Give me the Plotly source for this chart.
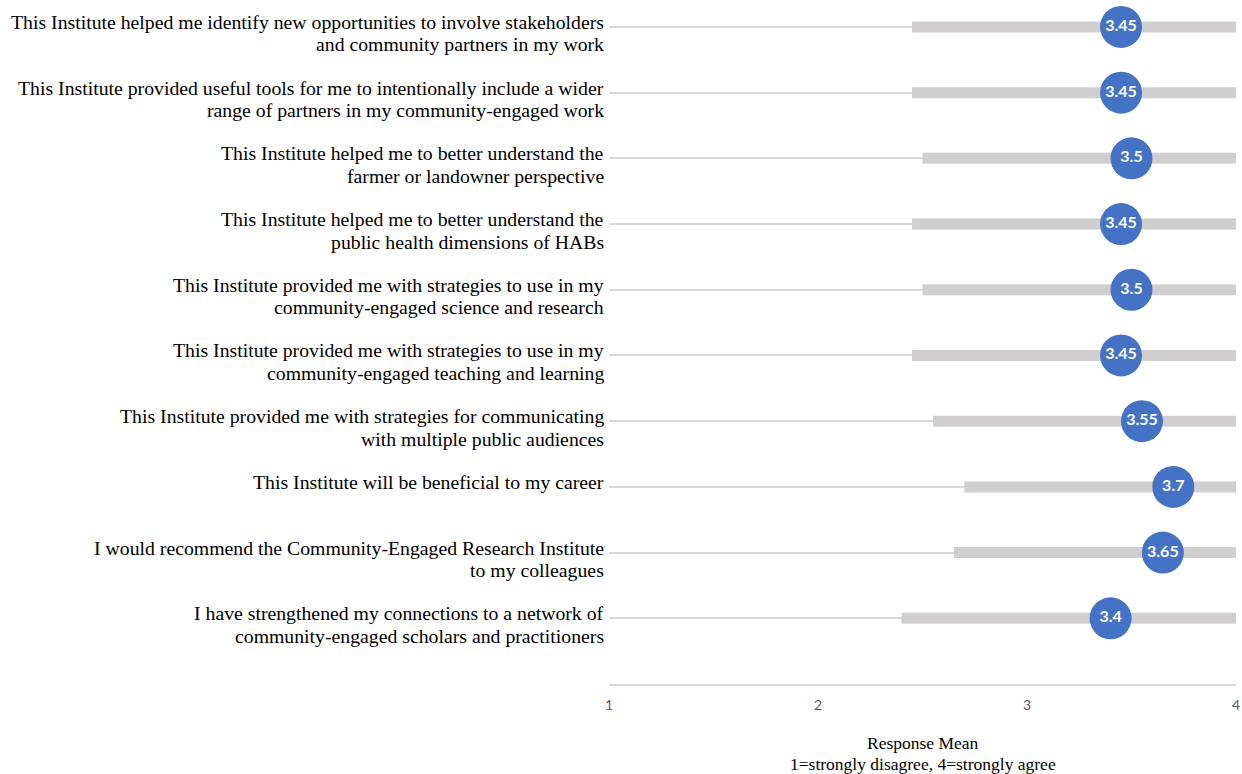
import plotly.graph_objects as go

# Survey statements (top to bottom), with <br> where each label wraps
statements = [
    "This Institute helped me identify new opportunities to involve stakeholders<br>and community partners in my work",
    "This Institute provided useful tools for me to intentionally include a wider<br>range of partners in my community-engaged work",
    "This Institute helped me to better understand the<br>farmer or landowner perspective",
    "This Institute helped me to better understand the<br>public health dimensions of HABs",
    "This Institute provided me with strategies to use in my<br>community-engaged science and research",
    "This Institute provided me with strategies to use in my<br>community-engaged teaching and learning",
    "This Institute provided me with strategies for communicating<br>with multiple public audiences",
    "This Institute will be beneficial to my career",
    "I would recommend the Community-Engaged Research Institute<br>to my colleagues",
    "I have strengthened my connections to a network of<br>community-engaged scholars and practitioners",
]
means = [3.45, 3.45, 3.5, 3.45, 3.5, 3.45, 3.55, 3.7, 3.65, 3.4]
range_low = [2.45, 2.45, 2.5, 2.45, 2.5, 2.45, 2.55, 2.7, 2.65, 2.4]
range_high = [4, 4, 4, 4, 4, 4, 4, 4, 4, 4]
x_ticks = [1, 2, 3, 4]
axis_title_lines = ["Response Mean", "1=strongly disagree, 4=strongly agree"]

n = len(statements)
row_pos = [n - i for i in range(n)]  # first statement at the top

SERIF = "Liberation Serif, Times New Roman, serif"
SANS = "Lato, Open Sans, Liberation Sans, sans-serif"
LABEL_LINE_GAP = 22.5  # px between wrapped label lines

fig = go.Figure()

# Thick grey range bars
bx, by = [], []
for lo, hi, y in zip(range_low, range_high, row_pos):
    bx += [lo, hi, None]
    by += [y, y, None]
fig.add_trace(go.Scatter(
    x=bx, y=by, mode="lines",
    line=dict(color="#d0cece", width=11),
    hoverinfo="skip", showlegend=False, cliponaxis=False,
))

# Blue mean markers with their value
fig.add_trace(go.Scatter(
    x=means, y=row_pos, mode="markers+text",
    marker=dict(size=42, color="#4472c4", line=dict(width=0)),
    text=[f"{m:g}" for m in means],
    textposition="middle center",
    textfont=dict(family=SANS, size=16, color="white", weight="bold"),
    showlegend=False, cliponaxis=False,
))

# Statement labels, right-aligned against the plot, one annotation per line
for label, y in zip(statements, row_pos):
    for k, line in enumerate(label.split("<br>")):
        fig.add_annotation(
            x=0, xref="paper", y=y, yref="y",
            text=line, showarrow=False,
            xanchor="right", yanchor="middle", align="right",
            xshift=-3, yshift=5 - k * LABEL_LINE_GAP,
            font=dict(family=SERIF, size=19.75, color="#000000"),
        )

# Axis title, two centred lines below the tick labels
for k, line in enumerate(axis_title_lines):
    fig.add_annotation(
        x=0.5, xref="paper", y=0, yref="paper",
        text=line, showarrow=False, xanchor="center", yanchor="middle",
        yshift=-59 - k * 20.5,
        font=dict(family=SERIF, size=17.5, color="#000000"),
    )

fig.update_layout(
    width=1242, height=774,
    margin=dict(l=609, r=6, t=0, b=90),
    paper_bgcolor="white", plot_bgcolor="white",
    xaxis=dict(
        range=[1, 4], tickvals=x_ticks, ticktext=[str(t) for t in x_ticks],
        showgrid=False, zeroline=False,
        showline=True, linecolor="#d9d9d9", linewidth=1.5,
        ticks="", ticklabelstandoff=7,
        tickfont=dict(family=SANS, size=14, color="#595959"),
    ),
    yaxis=dict(
        range=[0, 10.41], tickvals=row_pos, showticklabels=False,
        showgrid=True, gridcolor="#d9d9d9", gridwidth=1.5,
        zeroline=False, showline=False, ticks="",
    ),
)

fig.write_html("out.html")
